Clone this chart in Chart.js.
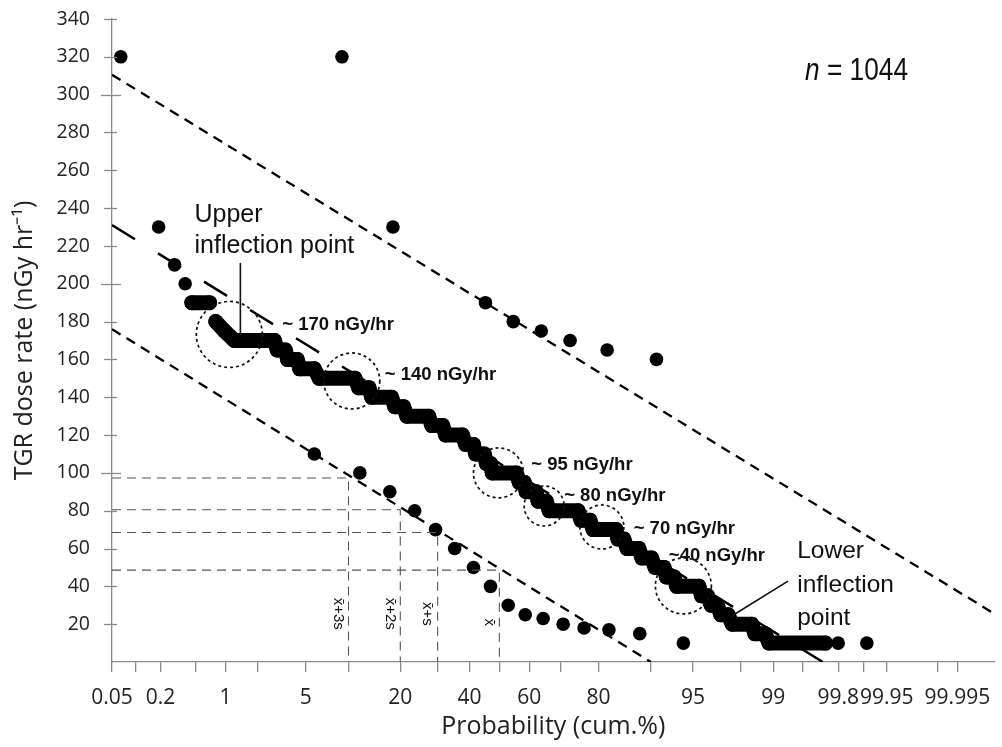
<!DOCTYPE html>
<html>
<head>
<meta charset="utf-8">
<script src="https://cdn.jsdelivr.net/npm/chart.js@4.4.1/dist/chart.umd.min.js"></script>
<style>
  html, body { margin: 0; padding: 0; background: #fff; }
  canvas { display: block; }
</style>
</head>
<body>
<canvas id="chart" width="1002" height="747"></canvas>
<script>
// x = cumulative probability (%), y = TGR dose rate (nGy/hr)

// main population, ends of each plateau of the staircase (null breaks the run)
const mainProb = [0.45, 0.69, 0.75, 0.80, 0.98, 1.22, 2.8, 2.96, 3.45, 3.6, 4.3, 4.5, 5.8, 6.3, 11.0,
  11.6, 13.4, 13.9, 18.0, 18.7, 20.8, 21.6, 27.4, 28.3, 31.5, 32.4, 37.7, 38.7, 41.3,
  42.0, 44.9, 45.6, 47.0, 47.6, 55.7, 56.7, 58.4, 59.0, 62.3, 62.9, 65.5, 66.4, 74.8,
  75.6, 77.9, 78.7, 83.9, 84.3, 85.5, 86.1, 88.2, 88.7, 90.2, 90.7, 91.9, 92.2, 93.1,
  93.4, 95.5, 95.7, 96.15, 96.4, 96.8, 97.0, 97.4, 97.6, 98.4, 98.5, 98.8, 98.9, 99.72];
const mainDose = [190, 190, null, 180, 175, 170, 170, 165, 165, 160, 160, 155, 155, 150, 150,
  145, 145, 140, 140, 135, 135, 130, 130, 125, 125, 120, 120, 115, 115,
  110, 110, 105, 105, 100, 100, 95, 95, 90, 90, 85, 85, 80, 80,
  75, 75, 70, 70, 65, 65, 60, 60, 55, 55, 50, 50, 45, 45,
  40, 40, 35, 35, 30, 30, 25, 25, 20, 20, 15, 15, 10, 10];

// loose points at both ends of the main population
const tailProb = [0.19, 0.29, 0.38, 99.80, 99.91];
const tailDose = [230, 210, 200, 10, 10];

// high dose population
const highProb = [0.065, 9.06, 18.3, 45.3, 54.7, 63.9, 72.6, 82.0, 90.9];
const highDose = [320, 320, 230, 190, 180, 175, 170, 165, 160];

// low dose population
const lowProb = [5.8, 11.8, 17.6, 23.6, 29.4, 35.2, 41.3, 47.0, 53.0, 58.7, 64.5, 70.6, 76.4, 82.4, 88.35, 94.1];
const lowDose = [110, 100, 90, 80, 70, 60, 50, 40, 30, 25, 23, 20, 18, 17, 15, 10];

// straight fitted lines, two ends each
const highFitProb = [0.05, 99.9987];
const highFitDose = [310.5, 25.5];
const mainFitProb = [0.05, 99.7];
const mainFitDose = [231, 0];
const lowFitProb = [0.05, 90.1];
const lowFitDose = [176, 0];

// mean and mean + k*s on the low population line
const statLabels = ['x\u0304+3s', 'x\u0304+2s', 'x\u0304+s', 'x\u0304'];
const statProb = [10, 20, 30, 50];
const statDose = [97.3, 80.5, 68.5, 48.6];

const xTickValues = [0.05, 0.1, 0.2, 0.5, 1, 2, 5, 10, 20, 30, 40, 50, 60, 70, 80, 90, 95,
  98, 99, 99.5, 99.8, 99.9, 99.95, 99.99, 99.995];
const xTickLabels = [0.05, 0.2, 1, 5, 20, 40, 60, 80, 95, 99, 99.8, 99.95, 99.995];
const yMajorTicks = [100, 200, 300];

const pairs = (xs, ys) => xs.map((v, i) => ({ x: v, y: ys[i] }));

// normal distribution helpers for the probability axis
function normCdf(z) {
  const t = 1 / (1 + 0.3275911 * Math.abs(z) / Math.SQRT2);
  const e = 1 - (((((1.061405429 * t - 1.453152027) * t) + 1.421413741) * t - 0.284496736) * t + 0.254829592) * t * Math.exp(-z * z / 2);
  return z >= 0 ? (1 + e) / 2 : (1 - e) / 2;
}
function probit(p) {
  const a = [-39.69683028665376, 220.9460984245205, -275.9285104469687, 138.3577518672690, -30.66479806614716, 2.506628277459239];
  const b = [-54.47609879822406, 161.5858368580409, -155.6989798598866, 66.80131188771972, -13.28068155288572];
  const c = [-0.007784894002430293, -0.3223964580411365, -2.400758277161838, -2.549732539343734, 4.374664141464968, 2.938163982698783];
  const d = [0.007784695709041462, 0.3224671290700398, 2.445134137142996, 3.754408661907416];
  const lo = 0.02425;
  let q, r;
  if (p < lo) {
    q = Math.sqrt(-2 * Math.log(p));
    return (((((c[0] * q + c[1]) * q + c[2]) * q + c[3]) * q + c[4]) * q + c[5]) / ((((d[0] * q + d[1]) * q + d[2]) * q + d[3]) * q + 1);
  }
  if (p > 1 - lo) {
    q = Math.sqrt(-2 * Math.log(1 - p));
    return -(((((c[0] * q + c[1]) * q + c[2]) * q + c[3]) * q + c[4]) * q + c[5]) / ((((d[0] * q + d[1]) * q + d[2]) * q + d[3]) * q + 1);
  }
  q = p - 0.5;
  r = q * q;
  return (((((a[0] * r + a[1]) * r + a[2]) * r + a[3]) * r + a[4]) * r + a[5]) * q / (((((b[0] * r + b[1]) * r + b[2]) * r + b[3]) * r + b[4]) * r + 1);
}

class ProbitScale extends Chart.Scale {
  static id = 'probit';
  static defaults = {};
  determineDataLimits() {
    this.min = this.options.min;
    this.max = this.options.max;
  }
  buildTicks() {
    return xTickValues.map(v => ({ value: v }));
  }
  getLabelForValue(v) {
    return String(v);
  }
  configure() {
    super.configure();
    this._zStart = probit(this.min / 100);
    this._zEnd = probit(this.max / 100);
  }
  getPixelForValue(v) {
    return this.getPixelForDecimal((probit(v / 100) - this._zStart) / (this._zEnd - this._zStart));
  }
  getValueForPixel(px) {
    return 100 * normCdf(this._zStart + this.getDecimalForPixel(px) * (this._zEnd - this._zStart));
  }
}
Chart.register(ProbitScale);

const NOTE_FONT = '"Liberation Sans", Arial, sans-serif';

const circleMarks = [
  { p: 1.09, d: 173.2, r: 33 },
  { p: 10.5, d: 148.6, r: 28 },
  { p: 49.7, d: 100, r: 25 },
  { p: 64.8, d: 82.5, r: 20 },
  { p: 80.8, d: 71.4, r: 22 },
  { p: 94.1, d: 40.2, r: 28 }
];

const notes = [
  { text: 'Upper', p: 0.48, d: 232.7, font: '25px ' + NOTE_FONT, base: 'alphabetic' },
  { text: 'inflection point', p: 0.48, d: 216.3, font: '25px ' + NOTE_FONT, base: 'alphabetic' },
  { text: '~ 170 nGy/hr', p: 3.26, d: 178.2, font: 'bold 18.5px ' + NOTE_FONT, base: 'middle' },
  { text: '~ 140 nGy/hr', p: 16.5, d: 151.8, font: 'bold 18.5px ' + NOTE_FONT, base: 'middle' },
  { text: '~ 95 nGy/hr', p: 60.7, d: 104.2, font: 'bold 18.5px ' + NOTE_FONT, base: 'middle' },
  { text: '~ 80 nGy/hr', p: 70.9, d: 87.8, font: 'bold 18.5px ' + NOTE_FONT, base: 'middle' },
  { text: '~ 70 nGy/hr', p: 87.3, d: 70.3, font: 'bold 18.5px ' + NOTE_FONT, base: 'middle' },
  { text: '~40 nGy/hr', p: 92.5, d: 56.1, font: 'bold 18.5px ' + NOTE_FONT, base: 'middle' },
  { text: 'Lower', p: 99.43, d: 55.0, font: '24.5px ' + NOTE_FONT, base: 'alphabetic' },
  { text: 'inflection', p: 99.43, d: 37.0, font: '24.5px ' + NOTE_FONT, base: 'alphabetic' },
  { text: 'point', p: 99.43, d: 19.6, font: '24.5px ' + NOTE_FONT, base: 'alphabetic' }
];

const pointers = [
  { from: [1.39, 211], to: [1.39, 172.9] },
  { from: [99.29, 42.8], to: [97.5, 23.8] }
];

const annotations = {
  id: 'annotations',
  afterDatasetsDraw(chart) {
    const { ctx, scales: { x, y } } = chart;
    ctx.save();

    // y tick marks cross the axis, the hundreds are longer
    const x0 = chart.chartArea.left;
    ctx.strokeStyle = '#8a8a8a';
    ctx.lineWidth = 1.3;
    y.ticks.forEach(t => {
      if (t.value === 0) return;
      const py = Math.round(y.getPixelForValue(t.value)) + 0.5;
      const major = yMajorTicks.includes(t.value);
      ctx.beginPath();
      ctx.moveTo(x0 - (major ? 11 : 8), py);
      ctx.lineTo(x0 + (major ? 9 : 5), py);
      ctx.stroke();
    });

    // dotted circles
    ctx.strokeStyle = '#111';
    ctx.lineWidth = 1.7;
    ctx.setLineDash([3, 3]);
    circleMarks.forEach(c => {
      ctx.beginPath();
      ctx.arc(x.getPixelForValue(c.p), y.getPixelForValue(c.d), c.r, 0, Math.PI * 2);
      ctx.stroke();
    });
    ctx.setLineDash([]);

    // pointer lines
    ctx.lineWidth = 1.6;
    pointers.forEach(l => {
      ctx.beginPath();
      ctx.moveTo(x.getPixelForValue(l.from[0]), y.getPixelForValue(l.from[1]));
      ctx.lineTo(x.getPixelForValue(l.to[0]), y.getPixelForValue(l.to[1]));
      ctx.stroke();
    });

    // text notes
    ctx.fillStyle = '#111';
    ctx.textAlign = 'left';
    notes.forEach(n => {
      ctx.font = n.font;
      ctx.textBaseline = n.base;
      ctx.fillText(n.text, x.getPixelForValue(n.p), y.getPixelForValue(n.d));
    });

    // rotated labels beside the mean / s lines
    ctx.font = '15px ' + NOTE_FONT;
    ctx.textAlign = 'center';
    ctx.textBaseline = 'middle';
    statLabels.forEach((s, i) => {
      ctx.save();
      ctx.translate(x.getPixelForValue(statProb[i]) - 10, y.getPixelForValue(i === 3 ? 21 : 25.5));
      ctx.rotate(Math.PI / 2);
      ctx.fillText(s, 0, 0);
      ctx.restore();
    });

    // sample size, condensed
    ctx.save();
    ctx.translate(x.getPixelForValue(99.53), y.getPixelForValue(307.8));
    ctx.scale(0.82, 1);
    ctx.textAlign = 'left';
    ctx.textBaseline = 'alphabetic';
    ctx.font = 'italic 32px ' + NOTE_FONT;
    ctx.fillText('n', 0, 0);
    const w = ctx.measureText('n').width;
    ctx.font = '32px ' + NOTE_FONT;
    ctx.fillText(' = 1044', w, 0);
    ctx.restore();

    ctx.restore();
  }
};

const lineSet = (data, dash, width, color) => ({
  data,
  showLine: true,
  fill: false,
  tension: 0,
  borderColor: color,
  borderWidth: width,
  borderDash: dash,
  pointRadius: 0
});

const dotSet = data => ({
  data,
  showLine: false,
  pointRadius: 6.8,
  pointBorderWidth: 0,
  pointBackgroundColor: '#000',
  borderColor: '#000'
});

const datasets = [
  lineSet(pairs(highFitProb, highFitDose), [10, 7], 2.3, '#000'),
  lineSet(pairs(mainFitProb, mainFitDose), [27, 27], 2.5, '#000'),
  lineSet(pairs(lowFitProb, lowFitDose), [10, 7], 2.3, '#000')
];
statProb.forEach((p, i) => {
  datasets.push(lineSet([{ x: 0.05, y: statDose[i] }, { x: p, y: statDose[i] }, { x: p, y: 0 }], [9, 6], 1.1, '#555'));
});
datasets.push({
  data: pairs(mainProb, mainDose),
  showLine: true,
  spanGaps: false,
  fill: false,
  tension: 0,
  borderColor: '#000',
  borderWidth: 15,
  borderCapStyle: 'round',
  borderJoinStyle: 'round',
  pointRadius: 7.5,
  pointBorderWidth: 0,
  pointBackgroundColor: '#000'
});
datasets.push(dotSet(pairs(tailProb, tailDose)));
datasets.push(dotSet(pairs(highProb, highDose)));
datasets.push(dotSet(pairs(lowProb, lowDose)));

new Chart(document.getElementById('chart'), {
  type: 'scatter',
  data: { datasets },
  options: {
    responsive: false,
    animation: false,
    devicePixelRatio: 1,
    layout: { padding: { left: 0, right: 2, top: 19, bottom: 0 } },
    plugins: {
      legend: { display: false },
      tooltip: { enabled: false }
    },
    scales: {
      x: {
        type: 'probit',
        min: 0.05,
        max: 99.9987,
        afterFit: s => { s.height = 85; s.paddingLeft = 0; s.paddingRight = 0; },
        grid: { display: true, drawOnChartArea: false, drawTicks: true, tickLength: 10, color: '#8a8a8a', lineWidth: 1.3 },
        border: { color: '#8a8a8a', width: 1.3 },
        ticks: {
          autoSkip: false,
          maxRotation: 0,
          minRotation: 0,
          padding: 13,
          color: '#222',
          font: { family: 'Open Sans', size: 21 },
          callback: v => xTickLabels.includes(v) ? String(v) : ''
        },
        title: {
          display: true,
          text: 'Probability (cum.%)',
          color: '#222',
          font: { family: 'Open Sans', size: 25 },
          padding: { top: 0, bottom: 5 }
        }
      },
      y: {
        min: 0,
        max: 340,
        afterFit: s => { s.width = 112; s.paddingTop = 0; s.paddingBottom = 0; },
        grid: { display: false },
        border: { color: '#8a8a8a', width: 1.3 },
        ticks: {
          stepSize: 20,
          padding: 14,
          color: '#222',
          font: { family: 'Open Sans', size: 19.5 },
          callback: v => v === 0 ? '' : v
        },
        title: {
          display: true,
          text: 'TGR dose rate (nGy hr\u207B\u00B9)',
          color: '#222',
          font: { family: 'Open Sans', size: 25 },
          padding: { top: 10, bottom: 0 }
        }
      }
    }
  },
  plugins: [annotations]
});
</script>
</body>
</html>
